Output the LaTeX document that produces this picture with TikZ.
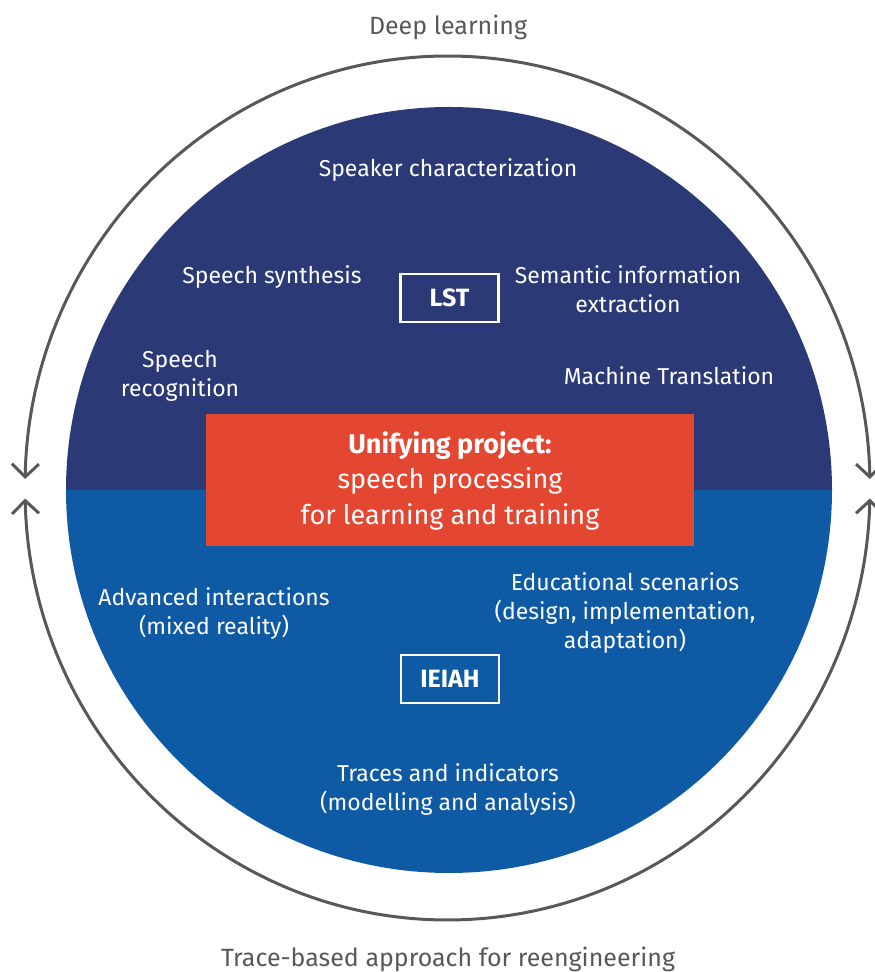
\documentclass[tikz,border=0pt]{standalone}
\usepackage{fontspec}
\setmainfont{Fira Sans}
\usetikzlibrary{arrows.meta,calc}
\definecolor{navy}{HTML}{2B3977}
\definecolor{midblue}{HTML}{0F5AA5}
\definecolor{redbox}{HTML}{E34631}
\definecolor{ringgray}{HTML}{585858}
\tikzset{
  lbl/.style={text=white, align=center, font=\fontsize{23}{29}\selectfont, inner sep=0pt},
  outer/.style={text=ringgray, align=center, font=\fontsize{25}{29}\selectfont, inner sep=0pt},
  tagbox/.style={draw=white, line width=2.5pt, text=white, font=\fontsize{25}{25}\bfseries\selectfont, minimum width=98pt, minimum height=48pt, inner sep=0pt},
  ring/.style={draw=ringgray, line width=3pt, {Straight Barb[length=13pt,width=27pt]}-{Straight Barb[length=13pt,width=27pt]}}
}
\begin{document}
\begin{tikzpicture}[x=1pt,y=1pt]
\useasboundingbox (0,0) rectangle (875,972);
% disk halves
\coordinate (D) at (449,482);
\fill[navy] (66,482) arc[start angle=180,end angle=0,radius=383pt] -- cycle;
\fill[midblue] (66,482) arc[start angle=180,end angle=360,radius=383pt] -- cycle;
% outer ring
\coordinate (C) at (447.5,484);
\draw[ring] ($(C)+(1.2:422.5pt and 432pt)$) arc[start angle=1.2,end angle=178.8,x radius=422.5pt,y radius=432pt];
\draw[ring] ($(C)+(181.4:422.5pt and 432pt)$) arc[start angle=181.4,end angle=358.6,x radius=422.5pt,y radius=432pt];
% outer labels
\node[outer] (dl) at (448,945) {Deep learning};
\node[outer] (tb) at (448,13) {Trace-based approach for reengineering};
% upper labels
\node[lbl] (spk) at (448,802) {Speaker characterization};
\node[lbl] (syn) at (272,695) {Speech synthesis};
\node[tagbox] (lst) at (449.5,674) {LST};
\node[lbl] (sem) at (628,683) {Semantic information\\extraction};
\node[lbl] (rec) at (180,596.5) {Speech\\recognition};
\node[lbl] (mt) at (669,596) {Machine Translation};
% central box
\node[fill=redbox, minimum width=488pt, minimum height=132pt, inner sep=0pt, text=white, align=center,
      font=\fontsize{27}{35.5}\selectfont] (uni) at (450,491.5)
  {\textbf{Unifying project:}\\speech processing\\for learning and training};
% lower labels
\node[lbl] (adv) at (214,359) {Advanced interactions\\(mixed reality)};
\node[lbl] (edu) at (625,359) {Educational scenarios\\(design, implementation,\\adaptation)};
\node[tagbox] (ieiah) at (450,293) {IEIAH};
\node[lbl] (tr) at (448,183) {Traces and indicators\\(modelling and analysis)};
\end{tikzpicture}
\end{document}
